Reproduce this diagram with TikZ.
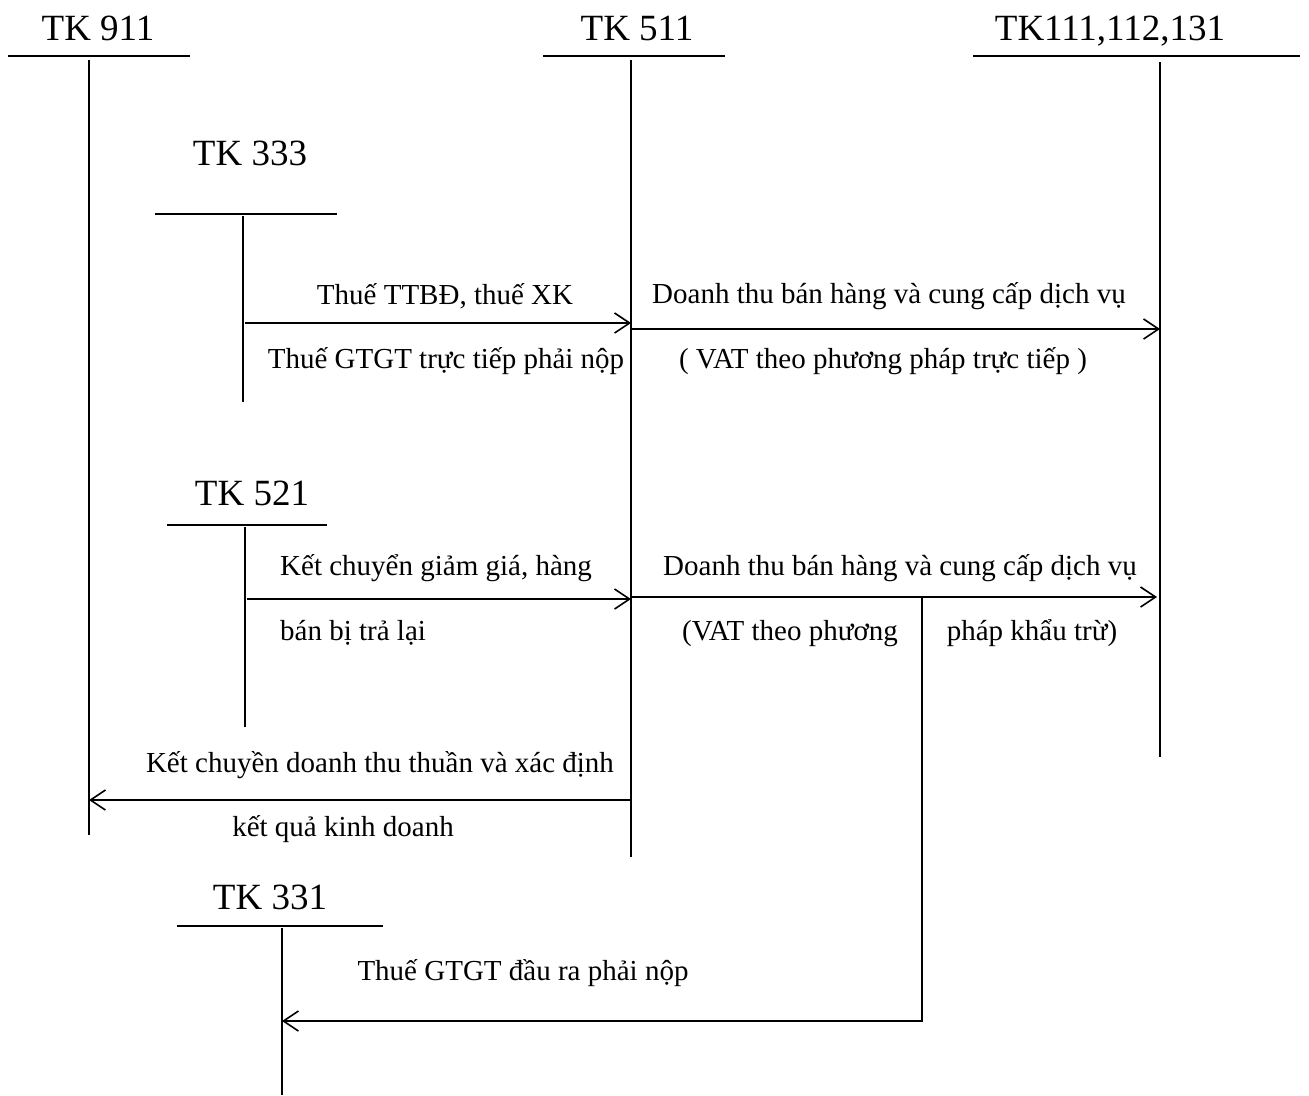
\documentclass[tikz,border=0pt]{standalone}
\usepackage{fontspec}
\setmainfont{Liberation Serif}
\usetikzlibrary{arrows.meta}
\begin{document}
\begin{tikzpicture}[x=1pt,y=-1pt,
  ln/.style={line width=1.6pt},
  arr/.style={line width=1.6pt,-{Straight Barb[length=15pt,width=20pt,line width=1.6pt]}},
  title/.style={font=\fontsize{37}{40}\selectfont,anchor=base,inner sep=0pt},
  lbl/.style={font=\fontsize{29}{32}\selectfont,anchor=base,inner sep=0pt},
  lbll/.style={font=\fontsize{29}{32}\selectfont,anchor=base west,inner sep=0pt}]
\useasboundingbox (0,0) rectangle (1309,1095);
% T accounts
\node[title] (t911) at (98,40) {TK 911};
\draw[ln] (8,56) -- (190,56);
\coordinate (a911top) at (89,60); \coordinate (a911bot) at (89,835);
\draw[ln] (a911top) -- (a911bot);

\node[title] (t511) at (637,40) {TK 511};
\draw[ln] (543,56) -- (725,56);
\coordinate (a511top) at (631,60); \coordinate (a511bot) at (631,857);
\draw[ln] (a511top) -- (a511bot);

\node[title] (t111) at (1110,40) {TK111,112,131};
\draw[ln] (973,56) -- (1300,56);
\coordinate (a111top) at (1160,62); \coordinate (a111bot) at (1160,757);
\draw[ln] (a111top) -- (a111bot);

\node[title] (t333) at (250,165) {TK 333};
\draw[ln] (155,214) -- (337,214);
\coordinate (a333top) at (243,216); \coordinate (a333bot) at (243,402);
\draw[ln] (a333top) -- (a333bot);

\node[title] (t521) at (252,505) {TK 521};
\draw[ln] (167,525) -- (327,525);
\coordinate (a521top) at (245,527); \coordinate (a521bot) at (245,727);
\draw[ln] (a521top) -- (a521bot);

\node[title] (t331) at (270,909) {TK 331};
\draw[ln] (177,926) -- (383,926);
\coordinate (a331top) at (282,928); \coordinate (a331bot) at (282,1095);
\draw[ln] (a331top) -- (a331bot);

% connectors
\coordinate (p1s) at (245,323); \coordinate (p1e) at (631,323);
\draw[arr] (p1s) -- (p1e);
\node[lbl] (l1a) at (445,304) {Thuế TTBĐ, thuế XK};
\node[lbl] (l1b) at (446,368) {Thuế GTGT trực tiếp phải nộp};

\coordinate (p2s) at (631,329); \coordinate (p2e) at (1160,329);
\draw[arr] (p2s) -- (p2e);
\node[lbl] (l2a) at (889,303) {Doanh thu bán hàng và cung cấp dịch vụ};
\node[lbl] (l2b) at (883,368) {( VAT theo phương pháp trực tiếp )};

\coordinate (p3s) at (247,599); \coordinate (p3e) at (631,599);
\draw[arr] (p3s) -- (p3e);
\node[lbll] (l3a) at (280,575) {Kết chuyển giảm giá, hàng};
\node[lbll] (l3b) at (280,640) {bán bị trả lại};

\coordinate (p4s) at (631,597); \coordinate (p4e) at (1157,597);
\draw[arr] (p4s) -- (p4e);
\node[lbl] (l4a) at (900,575) {Doanh thu bán hàng và cung cấp dịch vụ};
\node[lbl] (l4b) at (790,640) {(VAT theo phương};
\node[lbl] (l4c) at (1032,640) {pháp khẩu trừ)};

\coordinate (p6s) at (922,597); \coordinate (p6m) at (922,1021); \coordinate (p6e) at (282,1021);
\draw[arr] (p6s) -- (p6m) -- (p6e);
\node[lbl] (l6) at (523,980) {Thuế GTGT đầu ra phải nộp};

\coordinate (p5s) at (631,800); \coordinate (p5e) at (89,800);
\draw[arr] (p5s) -- (p5e);
\node[lbl] (l5a) at (380,772) {Kết chuyền doanh thu thuần và xác định};
\node[lbl] (l5b) at (343,836) {kết quả kinh doanh};
\end{tikzpicture}
\end{document}
